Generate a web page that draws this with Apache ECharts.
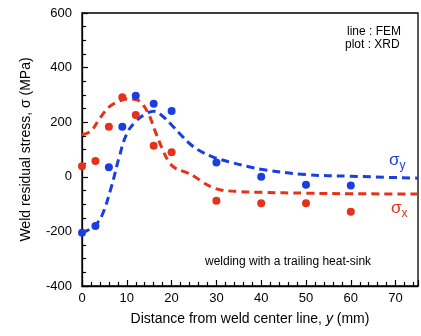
<!DOCTYPE html>
<html><head><meta charset="utf-8">
<script src="https://cdn.jsdelivr.net/npm/echarts@6/dist/echarts.min.js"></script>
<style>html,body{margin:0;padding:0;background:#fff}#c{width:421px;height:336px}</style>
</head><body><div id="c"></div>
<script>
// XRD measurements (plot)
const xrdX = [0, 3, 6, 9, 12, 16, 20, 30, 40, 50, 60];
const xrdSigmaY = [-205, -180, 35, 183, 297, 268, 241, 52, 0, -29, -32];
const xrdSigmaX = [39, 58, 183, 291, 226, 114, 90, -88, -97, -97, -128];
// FEM (line)
const femXx = [0, 2, 4, 6, 8, 10, 12, 13.5, 15, 16.5, 18, 19.5, 21, 23, 25, 27, 29, 31, 35, 40, 50, 60, 75];
const femSigmaX = [154, 168, 215, 255, 275, 285, 283, 266, 225, 160, 100, 52, 30, 18, 2, -20, -38, -48, -54, -57, -60, -62, -63];
const femXy = [0, 2, 3, 4.5, 6.5, 8.3, 10, 12, 14, 16, 18, 20, 22, 24, 26, 29, 33, 37, 41, 50, 60, 75];
const femSigmaY = [-205, -190, -178, -140, -40, 72, 158, 203, 228, 240, 222, 190, 155, 122, 98, 74, 54, 38, 25, 8, 2, -5];
const xTicks = [0, 10, 20, 30, 40, 50, 60, 70];
const yTicks = [-400, -200, 0, 200, 400, 600];

const RED = '#e5321b', BLUE = '#1a3ee0';
const FONT = '"Liberation Sans", Arial, sans-serif';
const pair = (xs, ys) => xs.map((x, i) => [x, ys[i]]);

function pointSeries(xs, ys, color) {
  return {type: 'line', data: pair(xs, ys), symbol: 'circle', symbolSize: 8,
    showSymbol: true, showAllSymbol: true,
    lineStyle: {width: 0, opacity: 0}, itemStyle: {color: color, opacity: 1}, z: 3};
}

const chart = echarts.init(document.getElementById('c'), null, {renderer: 'canvas'});
chart.setOption({
  animation: false,
  grid: {left: 82, right: -1, top: 13, bottom: 50, show: true,
    borderColor: '#000', borderWidth: 1.3, backgroundColor: 'transparent'},
  xAxis: {
    type: 'value', min: 0, max: 75, interval: 10,
    axisLine: {show: true, onZero: false, lineStyle: {color: '#000', width: 1.3}},
    axisTick: {show: true, inside: true, length: 6, lineStyle: {color: '#000', width: 1.2}},
    minorTick: {show: true, splitNumber: 5, length: 4, lineStyle: {color: '#000', width: 1.2}},
    splitLine: {show: false},
    axisLabel: {color: '#000', fontSize: 13, fontFamily: FONT, margin: 6,
      formatter: v => xTicks.includes(v) ? String(v) : ''},
    name: 'Distance from weld center line, {i|y} (mm)',
    nameLocation: 'middle', nameGap: 26,
    nameTextStyle: {color: '#000', fontSize: 14, fontFamily: FONT,
      rich: {i: {fontStyle: 'italic', fontSize: 14, fontFamily: FONT, color: '#000'}}}
  },
  yAxis: {
    type: 'value', min: -400, max: 600, interval: 200,
    axisLine: {show: true, onZero: false, lineStyle: {color: '#000', width: 1.3}},
    axisTick: {show: true, inside: true, length: 6, lineStyle: {color: '#000', width: 1.2}},
    minorTick: {show: true, splitNumber: 4, length: 4, lineStyle: {color: '#000', width: 1.2}},
    splitLine: {show: false},
    axisLabel: {color: '#000', fontSize: 13, fontFamily: FONT, margin: 10,
      formatter: v => yTicks.includes(v) ? String(v) : ''},
    name: 'Weld residual stress, σ (MPa)',
    nameLocation: 'middle', nameGap: 49,
    nameTextStyle: {color: '#000', fontSize: 14, fontFamily: FONT}
  },
  series: [
    {type: 'line', data: pair(femXx, femSigmaX), smooth: 0.4, showSymbol: false,
     lineStyle: {color: RED, width: 3, type: [8, 5]}, z: 2},
    {type: 'line', data: pair(femXy, femSigmaY), smooth: 0.4, showSymbol: false,
     lineStyle: {color: BLUE, width: 3, type: [8, 5]}, z: 2},
    pointSeries(xrdX, xrdSigmaX, RED),
    pointSeries(xrdX, xrdSigmaY, BLUE)
  ],
  graphic: [
    {type: 'text', left: 347, top: 26, style: {text: 'line : FEM', fill: '#000', font: '12px ' + FONT}},
    {type: 'text', left: 345, top: 39, style: {text: 'plot : XRD', fill: '#000', font: '12px ' + FONT}},
    {type: 'text', left: 205, top: 256, style: {text: 'welding with a trailing heat-sink', fill: '#000', font: '12px ' + FONT}},
    {type: 'text', left: 389, top: 152, style: {text: '{s|σ}{b|y}', rich: {
      s: {fontSize: 17, fontFamily: FONT, fill: BLUE, color: BLUE},
      b: {fontSize: 12, fontFamily: FONT, fill: BLUE, color: BLUE, padding: [10, 0, 0, 0]}}}},
    {type: 'text', left: 391, top: 200, style: {text: '{s|σ}{b|x}', rich: {
      s: {fontSize: 17, fontFamily: FONT, fill: RED, color: RED},
      b: {fontSize: 12, fontFamily: FONT, fill: RED, color: RED, padding: [10, 0, 0, 0]}}}}
  ]
});
</script></body></html>
